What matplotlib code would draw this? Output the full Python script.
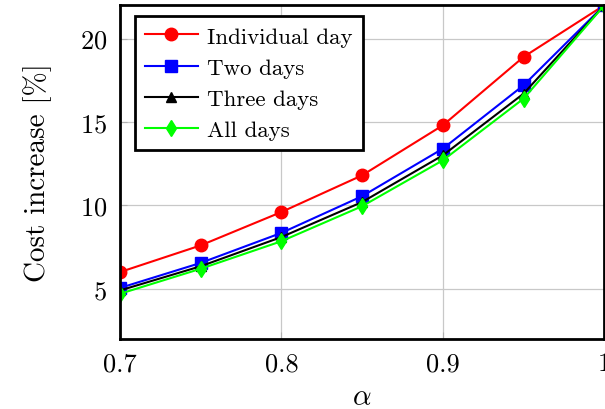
import matplotlib.pyplot as plt

plt.rcParams['font.family'] = 'serif'
plt.rcParams['font.serif'] = ['cmr10']
plt.rcParams['mathtext.fontset'] = 'cm'
plt.rcParams['axes.formatter.use_mathtext'] = True

# data
alpha = [0.70, 0.75, 0.80, 0.85, 0.90, 0.95, 1.00]
individual_day = [6.0, 7.6, 9.6, 11.8, 14.8, 18.9, 22.0]
two_days = [5.05, 6.55, 8.35, 10.55, 13.4, 17.2, 22.0]
three_days = [4.9, 6.35, 8.1, 10.2, 13.0, 16.7, 22.0]
all_days = [4.7, 6.2, 7.85, 9.95, 12.7, 16.4, 22.0]

fig = plt.figure(figsize=(6.05, 4.1), dpi=100)
ax = fig.add_axes([0.198, 0.171, 0.801, 0.814])

ax.plot(alpha, individual_day, color='red', marker='o', markersize=9, lw=1.5, label='Individual day')
ax.plot(alpha, two_days, color='blue', marker='s', markersize=8.5, lw=1.5, label='Two days')
ax.plot(alpha, three_days, color='black', marker='^', markersize=7.5, lw=1.5, label='Three days')
ax.plot(alpha, all_days, color='#00ff00', marker='d', markersize=8, lw=1.5, label='All days')

ax.set_xlim(0.7, 1.0)
ax.set_ylim(2, 22)
ax.set_xticks([0.7, 0.8, 0.9, 1.0])
ax.set_xticklabels(['0.7', '0.8', '0.9', '1'])
ax.set_yticks([5, 10, 15, 20])
ax.grid(True, color='#c8c8c8', lw=0.9)
ax.tick_params(direction='in', length=5, color='#b0b0b0', labelsize=19, pad=9)
for s in ax.spines.values():
    s.set_linewidth(2)

ax.set_xlabel(r'$\alpha$', fontsize=21, labelpad=6)
ax.set_ylabel('Cost increase [%]', fontsize=21, labelpad=20)

leg = ax.legend(loc='upper left', fontsize=16.5, fancybox=False, framealpha=1,
                edgecolor='black', borderpad=0.45, labelspacing=0.48,
                handlelength=2.3, handletextpad=0.4, borderaxespad=0,
                bbox_to_anchor=(0.031, 0.967))
leg.get_frame().set_linewidth(2)

fig.savefig('out.png', dpi=100)
